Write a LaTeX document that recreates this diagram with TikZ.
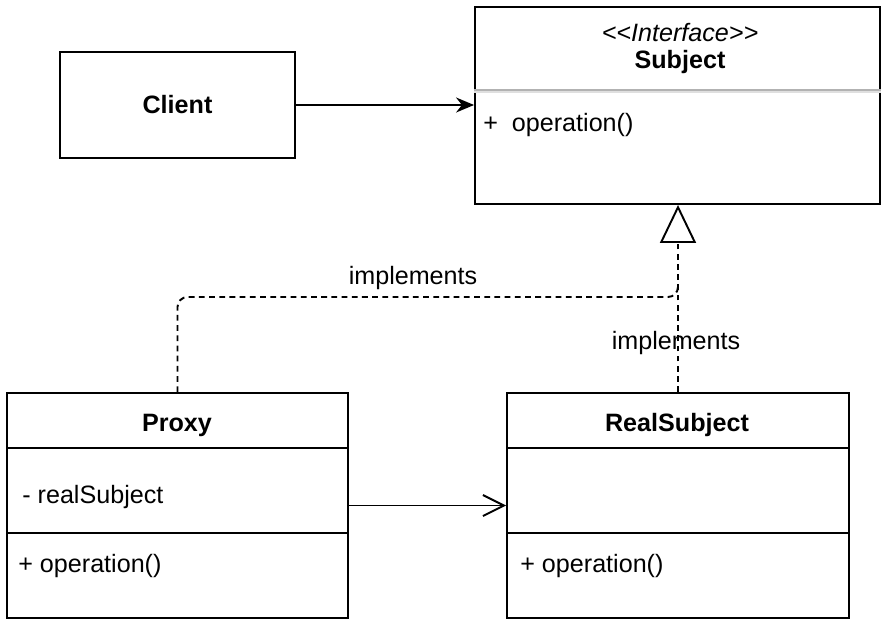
\documentclass[tikz,border=0pt]{standalone}
\usepackage{fontspec}
\setmainfont{Liberation Sans}
\usetikzlibrary{arrows.meta, positioning, calc}
\tikzstyle{umlclass} = [rectangle, draw=black, line width=1.1pt, inner sep=0pt, fill=white]
\tikzstyle{classname} = [font=\fontsize{14.3}{17}\selectfont\bfseries]
\tikzstyle{member} = [anchor=west, inner sep=0pt]
\tikzstyle{myarrow} = [-{Stealth[length=0.36cm, width=0.3cm]}, line width=1.1pt]
\tikzstyle{openarrow} = [-{Straight Barb[length=0.42cm, width=0.42cm]}, line width=1.1pt]
\tikzstyle{dashline} = [line width=1.1pt, dash pattern=on 3.3pt off 2.5pt]
\tikzstyle{realize} = [dashline, -{Triangle[open, length=0.76cm, width=0.72cm, fill=white]}]

\begin{document}
\begin{tikzpicture}[x=0.02cm, y=-0.02cm, every node/.style={font=\fontsize{14.3}{17}\selectfont}]
\useasboundingbox (0,0) rectangle (890,626);
\node(client)[umlclass, classname, minimum width=4.7cm, minimum height=2.12cm] at (177.5,105) {Client};
\node(subject)[umlclass, minimum width=8.1cm, minimum height=3.94cm] at (677.5,105.5) {};
\node(stereo)[font=\fontsize{14.3}{17}\selectfont\itshape] at (680,33) {<{}<Interface>{}>};
\node(subjname)[classname] at (680,62) {Subject};
\draw[gray!60, line width=1.2pt] ($(subject.north west)+(0,83.5)$) -- ($(subject.north east)+(0,83.5)$);
\draw[gray!25, line width=0.8pt] ($(subject.north west)+(0,86)$) -- ($(subject.north east)+(0,86)$);
\node(subjop)[member] at (483,125) {+\ \ operation()};

\node(proxy)[umlclass, minimum width=6.82cm, minimum height=4.5cm] at (177.5,505.5) {};
\draw[line width=1.1pt] ($(proxy.north west)+(0,56)$) -- ($(proxy.north east)+(0,56)$);
\draw[line width=1.1pt] ($(proxy.north west)+(0,141)$) -- ($(proxy.north east)+(0,141)$);
\node(proxyname)[classname] at (177,425) {Proxy};
\node(proxyattr)[member] at (22,497) {- realSubject};
\node(proxyop)[member] at (18,566) {+ operation()};

\node(realsub)[umlclass, minimum width=6.84cm, minimum height=4.5cm] at (678,505.5) {};
\draw[line width=1.1pt] ($(realsub.north west)+(0,56)$) -- ($(realsub.north east)+(0,56)$);
\draw[line width=1.1pt] ($(realsub.north west)+(0,141)$) -- ($(realsub.north east)+(0,141)$);
\node(realname)[classname] at (677,425) {RealSubject};
\node(realop)[member] at (520,566) {+ operation()};

\coordinate(bend) at (678,297);
\draw [myarrow] (client.east) -- (subject.west |- client.east);
\draw [openarrow] (proxy) -- (realsub);
\draw [dashline, rounded corners=0.2cm] (proxy.north) |- (bend) -- ++(0,-12);
\draw [realize] (realsub.north) -- (realsub.north |- subject.south);
\node(implproxy) at (413,278) {implements};
\node(implreal) at (676,343) {implements};
\end{tikzpicture}
\end{document}
